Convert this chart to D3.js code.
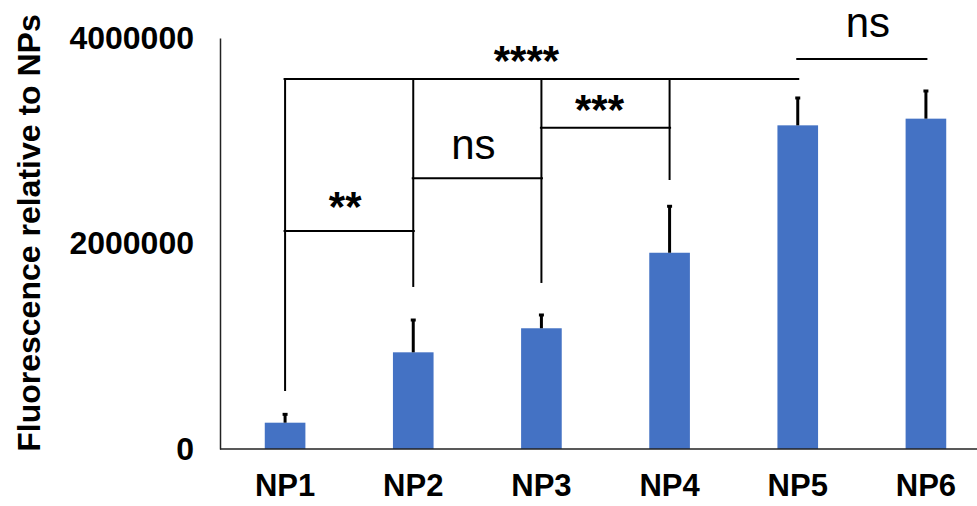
<!DOCTYPE html>
<html>
<head>
<meta charset="utf-8">
<script src="https://cdn.jsdelivr.net/npm/d3@7"></script>
<style>
  html, body { margin: 0; padding: 0; background: #fff; }
  svg { display: block; font-family: "Liberation Sans", Arial, sans-serif; }
</style>
</head>
<body>
<svg id="chart" width="977" height="506"></svg>
<script>
// ---- data ----
const categories = ["NP1", "NP2", "NP3", "NP4", "NP5", "NP6"];
const values = [256000, 941000, 1175000, 1910000, 3150000, 3215000];
const errors = [91000, 324000, 139000, 462000, 276000, 279000];
const yTicks = [0, 2000000, 4000000];
const yTitle = "Fluorescence relative to NPs";

// significance brackets (horizontal bars) : from, to, level (data units), label
const bracketFrom = ["NP1", "NP2", "NP3", "NP1", "NP5"];
const bracketTo = ["NP2", "NP3", "NP4", "NP5", "NP6"];
const bracketLevel = [2122000, 2635000, 3127000, 3601000, 3796000];
const bracketLabel = ["**", "ns", "***", "****", "ns"];
// vertical legs : category, top level, bottom level (data units)
const legCat = ["NP1", "NP2", "NP3", "NP4"];
const legTop = [3601000, 3601000, 3601000, 3601000];
const legBottom = [564000, 1577000, 1616000, 2618000];

// ---- layout (not data) ----
const labelDx = [-4, -4, -6, -15, 6];
const labelDy = [-10, -19, -4, -4, -22];

const svg = d3.select("#chart");
const x = d3.scaleBand().domain(categories).range([221, 990])
  .paddingInner(0.683).paddingOuter(0.3415);
const y = d3.scaleLinear().domain([0, 4000000]).range([449, 38]);
const cx = c => x(c) + x.bandwidth() / 2;

// bars
svg.append("g").selectAll("rect").data(categories).join("rect")
  .attr("x", d => x(d))
  .attr("y", (d, i) => y(values[i]))
  .attr("width", x.bandwidth())
  .attr("height", (d, i) => y(0) - y(values[i]))
  .attr("fill", "#4472C4");

// error bars
const eg = svg.append("g").attr("stroke", "#000");
eg.selectAll("line.stem").data(categories).join("line").attr("class", "stem")
  .attr("x1", d => cx(d)).attr("x2", d => cx(d))
  .attr("y1", (d, i) => y(values[i]))
  .attr("y2", (d, i) => y(values[i] + errors[i]))
  .attr("stroke-width", 3);
eg.selectAll("line.cap").data(categories).join("line").attr("class", "cap")
  .attr("x1", d => cx(d) - 2.5).attr("x2", d => cx(d) + 2.5)
  .attr("y1", (d, i) => y(values[i] + errors[i]) + 1)
  .attr("y2", (d, i) => y(values[i] + errors[i]) + 1)
  .attr("stroke-width", 3);

// y axis
const yAxis = svg.append("g").attr("transform", "translate(220,0)")
  .call(d3.axisLeft(y).tickValues(yTicks).tickFormat(d3.format("d")).tickSize(0).tickPadding(26));
yAxis.select(".domain").attr("stroke", "#222").attr("stroke-width", 1.5);
yAxis.selectAll("text").attr("font-size", 32).attr("font-weight", "bold")
  .attr("fill", "#000").attr("font-family", "Liberation Sans, Arial, sans-serif");

// x axis
const xAxis = svg.append("g").attr("transform", "translate(0,449)")
  .call(d3.axisBottom(x).tickSize(0).tickPadding(0));
xAxis.select(".domain").attr("stroke", "#222").attr("stroke-width", 1.5)
  .attr("d", "M220,0H977");
xAxis.selectAll("text").attr("font-size", 31).attr("font-weight", "bold")
  .attr("fill", "#000").attr("dy", 0).attr("y", 47)
  .attr("font-family", "Liberation Sans, Arial, sans-serif");

// y title
svg.append("text")
  .attr("transform", "translate(40,233) rotate(-90)")
  .attr("text-anchor", "middle")
  .attr("font-size", 32).attr("font-weight", "bold").attr("fill", "#000")
  .text(yTitle);

// significance legs
const sg = svg.append("g").attr("stroke", "#000").attr("stroke-width", 2);
sg.selectAll("line.leg").data(legCat).join("line").attr("class", "leg")
  .attr("x1", d => cx(d)).attr("x2", d => cx(d))
  .attr("y1", (d, i) => y(legTop[i]) - 1)
  .attr("y2", (d, i) => y(legBottom[i]));
sg.selectAll("line.bar").data(bracketLevel).join("line").attr("class", "bar")
  .attr("x1", (d, i) => cx(bracketFrom[i]) - 1.5)
  .attr("x2", (d, i) => cx(bracketTo[i]) + 1.5)
  .attr("y1", d => y(d)).attr("y2", d => y(d));

svg.append("g").selectAll("text").data(bracketLabel).join("text")
  .attr("x", (d, i) => (cx(bracketFrom[i]) + cx(bracketTo[i])) / 2 + labelDx[i])
  .attr("y", (d, i) => y(bracketLevel[i]) + labelDy[i])
  .attr("text-anchor", "middle")
  .attr("font-size", 42).attr("fill", "#000")
  .attr("font-weight", d => d === "ns" ? "normal" : "bold")
  .text(d => d);
</script>
</body>
</html>
